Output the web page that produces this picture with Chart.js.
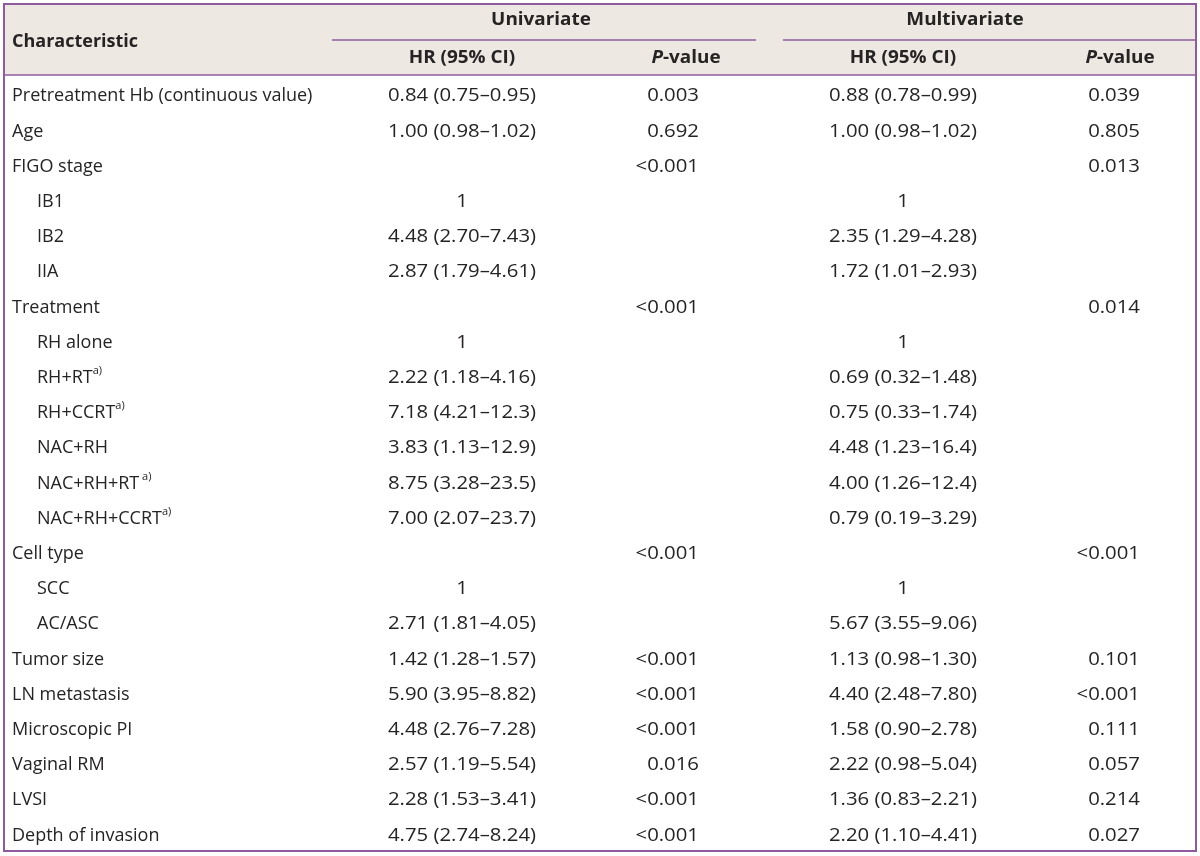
<!DOCTYPE html>
<html>
<head>
<meta charset="utf-8">
<script src="https://cdn.jsdelivr.net/npm/chart.js@4.4.0/dist/chart.umd.min.js"></script>
<style>
    html, body { margin: 0; padding: 0; background: #ffffff; }
    #wrap { width: 1200px; height: 856px; position: relative; }
</style>
</head>
<body>
<div id="wrap"><canvas id="tableChart" width="1200" height="856"></canvas></div>
<script>
// Datos de la tabla
const characteristics = ['Pretreatment Hb (continuous value)', 'Age', 'FIGO stage', 'IB1', 'IB2', 'IIA',
    'Treatment', 'RH alone', 'RH+RT', 'RH+CCRT', 'NAC+RH', 'NAC+RH+RT', 'NAC+RH+CCRT',
    'Cell type', 'SCC', 'AC/ASC', 'Tumor size', 'LN metastasis', 'Microscopic PI',
    'Vaginal RM', 'LVSI', 'Depth of invasion'];
const isSubRow = [0, 0, 0, 1, 1, 1, 0, 1, 1, 1, 1, 1, 1, 0, 1, 1, 0, 0, 0, 0, 0, 0];
const footnotes = ['', '', '', '', '', '', '', '', 'a)', 'a)', '', ' a)', 'a)', '', '', '', '', '', '', '', '', ''];
const uniHR = ['0.84 (0.75–0.95)', '1.00 (0.98–1.02)', '', '1', '4.48 (2.70–7.43)', '2.87 (1.79–4.61)',
    '', '1', '2.22 (1.18–4.16)', '7.18 (4.21–12.3)', '3.83 (1.13–12.9)', '8.75 (3.28–23.5)', '7.00 (2.07–23.7)',
    '', '1', '2.71 (1.81–4.05)', '1.42 (1.28–1.57)', '5.90 (3.95–8.82)', '4.48 (2.76–7.28)',
    '2.57 (1.19–5.54)', '2.28 (1.53–3.41)', '4.75 (2.74–8.24)'];
const uniP = ['0.003', '0.692', '<0.001', '', '', '', '<0.001', '', '', '', '', '', '',
    '<0.001', '', '', '<0.001', '<0.001', '<0.001', '0.016', '<0.001', '<0.001'];
const multiHR = ['0.88 (0.78–0.99)', '1.00 (0.98–1.02)', '', '1', '2.35 (1.29–4.28)', '1.72 (1.01–2.93)',
    '', '1', '0.69 (0.32–1.48)', '0.75 (0.33–1.74)', '4.48 (1.23–16.4)', '4.00 (1.26–12.4)', '0.79 (0.19–3.29)',
    '', '1', '5.67 (3.55–9.06)', '1.13 (0.98–1.30)', '4.40 (2.48–7.80)', '1.58 (0.90–2.78)',
    '2.22 (0.98–5.04)', '1.36 (0.83–2.21)', '2.20 (1.10–4.41)'];
const multiP = ['0.039', '0.805', '0.013', '', '', '', '0.014', '', '', '', '', '', '',
    '<0.001', '', '', '0.101', '<0.001', '0.111', '0.057', '0.214', '0.027'];

const groupTitles = ['Univariate', 'Multivariate'];
const columnTitles = ['HR (95% CI)', 'P-value'];

// Estilos y posiciones (unidades de tabla)
const FONT = '"Open Sans", "Noto Sans", sans-serif';
const TEXT = '#262324';
const PURPLE = '#8f5b9d';
const HEADER_BG = '#ede8e1';
const NUM_STRETCH = 1.13;
const HEAD_STRETCH = 1.05;
const col = {
    label: 8, indent: 33,
    uniHR: 458, uniP: 695,
    multiHR: 899, multiP: 1136,
    uniPCenter: 682, multiPCenter: 1116,
    uniGroup: 537, multiGroup: 961
};

// Texto con escala horizontal opcional
function drawText(ctx, str, x, y, align, font, sx = 1) {
    ctx.font = font;
    ctx.textAlign = 'left';
    ctx.textBaseline = 'middle';
    ctx.fillStyle = TEXT;
    const w = ctx.measureText(str).width * sx;
    let left = x;
    if (align === 'center') left = x - w / 2;
    if (align === 'right') left = x - w;
    ctx.save();
    ctx.translate(left, y);
    ctx.scale(sx, 1);
    ctx.fillText(str, 0, 0);
    ctx.restore();
    return w;
}

// Puntos invisibles: uno por celda
function cellPoints(values, anchor) {
    const pts = [];
    values.forEach((v, i) => {
        if (v !== '') pts.push({ x: anchor, y: i, text: v });
    });
    return pts;
}

const tablePlugin = {
    id: 'tablePlugin',
    beforeDraw(chart) {
        const ctx = chart.ctx;
        const area = chart.chartArea;
        ctx.save();
        ctx.fillStyle = HEADER_BG;
        ctx.fillRect(area.left, 4, area.right - area.left, area.top - 4);
        ctx.restore();
    },
    afterDraw(chart) {
        const ctx = chart.ctx;
        const area = chart.chartArea;
        const xs = chart.scales.x;
        const ys = chart.scales.y;
        ctx.save();

        // Encabezado
        const bold = 'bold 18px ' + FONT;
        const boldItalic = 'italic bold 18px ' + FONT;
        drawText(ctx, 'Characteristic', xs.getPixelForValue(col.label), 42, 'left', bold);
        drawText(ctx, groupTitles[0], xs.getPixelForValue(col.uniGroup), 20, 'center', bold, HEAD_STRETCH);
        drawText(ctx, groupTitles[1], xs.getPixelForValue(col.multiGroup), 20, 'center', bold, HEAD_STRETCH);
        [col.uniHR, col.multiHR].forEach(c => {
            drawText(ctx, columnTitles[0], xs.getPixelForValue(c), 58, 'center', bold, HEAD_STRETCH);
        });
        [col.uniPCenter, col.multiPCenter].forEach(c => {
            ctx.font = boldItalic;
            const wP = ctx.measureText('P').width * HEAD_STRETCH;
            ctx.font = bold;
            const wRest = ctx.measureText(columnTitles[1].slice(1)).width * HEAD_STRETCH;
            const left = xs.getPixelForValue(c) - (wP + wRest) / 2;
            drawText(ctx, 'P', left, 58, 'left', boldItalic, HEAD_STRETCH);
            drawText(ctx, columnTitles[1].slice(1), left + wP, 58, 'left', bold, HEAD_STRETCH);
        });

        // Lineas
        ctx.strokeStyle = PURPLE;
        ctx.lineWidth = 1.5;
        ctx.beginPath();
        ctx.moveTo(332, 40); ctx.lineTo(756, 40);
        ctx.moveTo(783, 40); ctx.lineTo(area.right, 40);
        ctx.stroke();
        ctx.beginPath();
        ctx.moveTo(area.left, area.top); ctx.lineTo(area.right, area.top);
        ctx.stroke();
        ctx.lineWidth = 2;
        ctx.strokeRect(area.left, 4, area.right - area.left, area.bottom - 4);

        // Etiquetas de filas
        const regular = '18px ' + FONT;
        characteristics.forEach((name, i) => {
            const x = xs.getPixelForValue(isSubRow[i] ? col.indent : col.label);
            const y = ys.getPixelForValue(i);
            const w = drawText(ctx, name, x, y, 'left', regular);
            if (footnotes[i]) {
                ctx.font = '11px ' + FONT;
                ctx.textAlign = 'left';
                ctx.textBaseline = 'middle';
                ctx.fillText(footnotes[i], x + w, y - 7);
            }
        });

        // Celdas de datos desde los elementos del dataset
        chart.data.datasets.forEach((ds, di) => {
            const meta = chart.getDatasetMeta(di);
            meta.data.forEach((pt, j) => {
                drawText(ctx, ds.data[j].text, pt.x, pt.y, ds.align, regular, NUM_STRETCH);
            });
        });
        ctx.restore();
    }
};

const ctx = document.getElementById('tableChart').getContext('2d');
const tableChart = new Chart(ctx, {
    type: 'scatter',
    data: {
        datasets: [
            { label: 'Univariate HR', data: cellPoints(uniHR, col.uniHR), align: 'center' },
            { label: 'Univariate P', data: cellPoints(uniP, col.uniP), align: 'right' },
            { label: 'Multivariate HR', data: cellPoints(multiHR, col.multiHR), align: 'center' },
            { label: 'Multivariate P', data: cellPoints(multiP, col.multiP), align: 'right' }
        ]
    },
    options: {
        responsive: false,
        animation: false,
        events: [],
        elements: { point: { radius: 0, hoverRadius: 0 } },
        layout: { padding: { top: 75, left: 4, right: 4, bottom: 5 } },
        plugins: { legend: { display: false }, tooltip: { enabled: false } },
        scales: {
            x: { type: 'linear', min: 0, max: 1192, display: false },
            y: { type: 'linear', min: -0.607, max: 21.443, reverse: true, display: false }
        }
    },
    plugins: [tablePlugin]
});
</script>
</body>
</html>
